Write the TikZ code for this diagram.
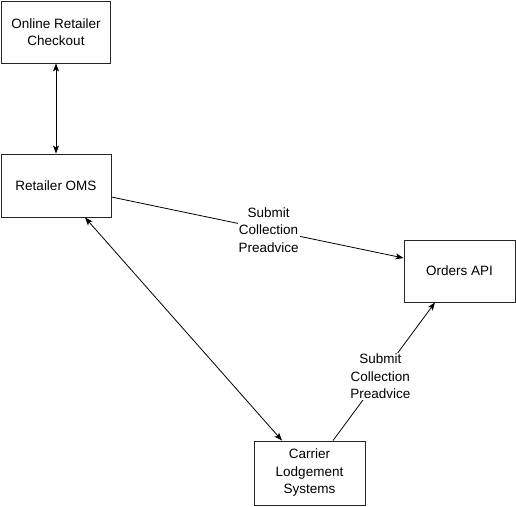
\documentclass[tikz,border=0pt]{standalone}
\usepackage{fontspec}
\setmainfont{Liberation Sans}
\usetikzlibrary{arrows.meta}
\begin{document}
\begin{tikzpicture}[x=1pt,y=-1pt,
  box/.style={draw=black!85,line width=0.9pt,fill=white,align=center,inner sep=0pt,
    font=\fontsize{13.5}{17.5}\selectfont},
  lbl/.style={fill=white,align=center,inner sep=1pt,font=\fontsize{13.5}{17.5}\selectfont},
  conn/.style={line width=0.8pt,draw=black},
  tip/.tip={Stealth[length=8pt,width=6pt,inset=2pt]}]
\useasboundingbox (0,0) rectangle (516,506);
\node[box,minimum width=109pt,minimum height=62pt] (b1) at (56,32) {Online Retailer\\Checkout};
\node[box,minimum width=110pt,minimum height=63pt] (b2) at (56,185.5) {Retailer OMS};
\node[box,minimum width=111pt,minimum height=62pt] (b3) at (459.5,271) {Orders API};
\node[box,minimum width=111pt,minimum height=64pt] (b4) at (309.5,473) {Carrier\\Lodgement\\Systems};
\draw[conn,{tip}-{tip}] (b1.south) -- (b2.north);
\draw[conn,-{tip}] ([yshift=-11.5pt]b2.east) -- node[lbl,pos=0.538] (l1) {Submit\\Collection\\Preadvice} ([yshift=13pt]b3.west);
\draw[conn,{tip}-{tip}] ([xshift=29pt]b2.south) -- ([xshift=-27.5pt]b4.north);
\draw[conn,-{tip}] ([xshift=23.5pt]b4.north) -- node[lbl,pos=0.464] (l2) {Submit\\Collection\\Preadvice} ([xshift=-24.5pt]b3.south);
\end{tikzpicture}
\end{document}
